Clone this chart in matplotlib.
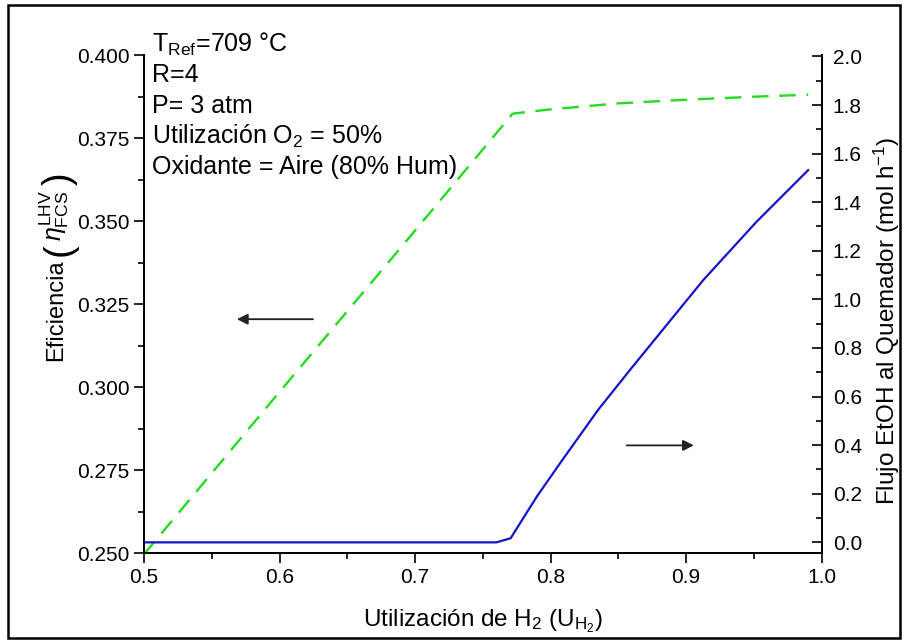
import matplotlib
matplotlib.use("Agg")
import matplotlib.pyplot as plt
from matplotlib.patches import Rectangle
from matplotlib.ticker import MultipleLocator

plt.rcParams['font.family'] = ['Liberation Sans', 'DejaVu Sans']
plt.rcParams['mathtext.fontset'] = 'custom'
plt.rcParams['mathtext.rm'] = 'Liberation Sans'
plt.rcParams['mathtext.it'] = 'Liberation Sans:italic'
plt.rcParams['mathtext.bf'] = 'Liberation Sans:bold'

# Efficiency (left axis, green dashed)
eff_x = [0.50, 0.60, 0.70, 0.772, 0.80, 0.85, 0.90, 0.95, 0.99]
eff_y = [0.2497, 0.2986, 0.3472, 0.3824, 0.3837, 0.3855, 0.3866, 0.3875, 0.3881]

# EtOH flow to burner (right axis, blue solid)
flow_x = [0.50, 0.760, 0.7705, 0.79, 0.807, 0.835, 0.8586, 0.9127, 0.952, 0.99]
flow_y = [0.0, 0.0, 0.017, 0.19, 0.326, 0.545, 0.710, 1.080, 1.320, 1.532]

xticks = [0.5, 0.6, 0.7, 0.8, 0.9, 1.0]
left_ticks = [0.250, 0.275, 0.300, 0.325, 0.350, 0.375, 0.400]
right_ticks = [0.0, 0.2, 0.4, 0.6, 0.8, 1.0, 1.2, 1.4, 1.6, 1.8, 2.0]

notes = [r"T$_{\mathrm{Ref}}$=709 °C", "R=4", "P= 3 atm",
         r"Utilización O$_{2}$ = 50%", "Oxidante = Aire (80% Hum)"]

W, H = 906, 643
fig = plt.figure(figsize=(W / 100, H / 100), dpi=100)
ax = fig.add_axes([144 / W, 1 - 553.3 / H, (821.7 - 144) / W, (553.3 - 55.2) / H])
ax2 = ax.twinx()

ax.plot(eff_x, eff_y, color='#22dd22', lw=1.7, dashes=(7, 4.5))
ax2.plot(flow_x, flow_y, color='#1414cc', lw=1.6)

ax.set_xlim(0.5, 1.0)
ax.set_ylim(0.250, 0.400)
ax2.set_ylim(-0.045, 2.005)

ax.set_xticks(xticks)
ax.set_xticklabels([f"{v:.1f}" for v in xticks])
ax.set_yticks(left_ticks)
ax.set_yticklabels([f"{v:.3f}" for v in left_ticks])
ax2.set_yticks(right_ticks)
ax2.set_yticklabels([f"{v:.1f}" for v in right_ticks])
ax.xaxis.set_minor_locator(MultipleLocator(0.05))
ax.yaxis.set_minor_locator(MultipleLocator(0.0125))
ax2.yaxis.set_minor_locator(MultipleLocator(0.1))

for a in (ax, ax2):
    a.spines['top'].set_visible(False)
    for s in a.spines.values():
        s.set_linewidth(1.3)

ax.tick_params(axis='both', which='major', direction='out', length=7, width=1.2, labelsize=15)
ax.tick_params(axis='both', which='minor', direction='out', length=4, width=1.2)
ax2.tick_params(axis='y', which='major', direction='in', length=7, width=1.2, labelsize=15, pad=8)
ax2.tick_params(axis='y', which='minor', direction='in', length=4, width=1.2)

ax.set_xlabel(r"Utilización de H$_2$ (U$_{\mathrm{H_2}}$)", fontsize=17.5, labelpad=15)
ax2.set_ylabel(r"Flujo EtOH al Quemador (mol h$^{-1}$)", fontsize=17.5, labelpad=10)
ax2.yaxis.set_label_coords(1.074, 0.466)

# Left y label built from pieces (large parentheses)
def px(x, y):
    return x / W, 1 - y / H

lab_kw = dict(rotation=90, rotation_mode='anchor', va='baseline')
fig.text(*px(62, 361), "Eficiencia", fontsize=17, ha='left', **lab_kw)
fig.text(*px(70, 256), "(", fontsize=27, ha='left', **lab_kw)
fig.text(*px(62, 241), r"$\eta^{\mathrm{LHV}}_{\mathrm{FCS}}$", fontsize=18, ha='left', **lab_kw)
fig.text(*px(70, 185), ")", fontsize=27, ha='left', **lab_kw)

baselines = [52, 82.5, 113, 143.5, 174]
for t, b in zip(notes, baselines):
    fig.text(151.7 / W, 1 - b / H, t, fontsize=18, va='baseline', ha='left')

arrow_kw = dict(arrowstyle='-|>', color='#222222', lw=1.3, mutation_scale=16)
ax.annotate('', xy=(0.5665, 0.3205), xytext=(0.6267, 0.3205), arrowprops=arrow_kw)
ax.annotate('', xy=(0.9077, 0.2825), xytext=(0.854, 0.2825), arrowprops=arrow_kw)

fig.patches.append(Rectangle((8 / W, 5 / H), (900 - 8) / W, (638 - 5) / H,
                             transform=fig.transFigure, fill=False, lw=1.8, color='black'))

fig.savefig("out.png", dpi=100)
